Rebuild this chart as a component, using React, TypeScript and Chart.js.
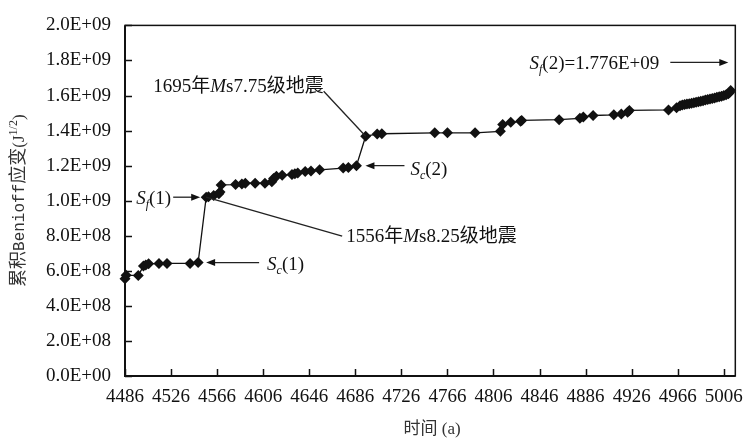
import React, { useEffect, useRef } from "react";
import { Chart, registerables } from "chart.js";

Chart.register(...registerables);

// Years on the time axis (a) and cumulative Benioff strain (J^1/2)
const years: number[] = [
  4486, 4487, 4497.5, 4502, 4504, 4506.5, 4515.5, 4522.5, 4542.5, 4549.5,
  4556.5, 4558.5, 4563, 4567.5, 4568.5, 4569.5, 4582, 4587.5, 4590.5, 4599,
  4607.5, 4613.5, 4615, 4617.5, 4622.5, 4631, 4633.5, 4636, 4642.5, 4647.5,
  4655, 4675.5, 4680, 4687, 4695, 4705, 4709, 4755, 4766, 4790,
  4812, 4814, 4821, 4829.5, 4830.5, 4863, 4881, 4884, 4892.5, 4910.5,
  4917, 4922.5, 4924, 4958, 4965, 4968, 4970, 4972, 4974, 4976,
  4978, 4980, 4982, 4984, 4986, 4988, 4990, 4992, 4994, 4996,
  4998, 5000, 5002, 5004, 5006, 5008, 5010, 5011, 5012,
];

const strain: number[] = [
  5.55e8, 5.75e8, 5.73e8, 6.27e8, 6.33e8, 6.4e8, 6.42e8, 6.42e8, 6.42e8, 6.47e8,
  1.02e9, 1.022e9, 1.03e9, 1.04e9, 1.05e9, 1.09e9, 1.092e9, 1.095e9, 1.1e9, 1.1e9,
  1.1e9, 1.108e9, 1.126e9, 1.14e9, 1.145e9, 1.15e9, 1.154e9, 1.158e9, 1.167e9, 1.17e9,
  1.176e9, 1.186e9, 1.19e9, 1.2e9, 1.368e9, 1.38e9, 1.382e9, 1.387e9, 1.387e9, 1.387e9,
  1.396e9, 1.434e9, 1.447e9, 1.453e9, 1.458e9, 1.462e9, 1.47e9, 1.478e9, 1.486e9, 1.49e9,
  1.494e9, 1.505e9, 1.515e9, 1.518e9, 1.53e9, 1.542e9, 1.546e9, 1.549e9, 1.551e9, 1.553e9,
  1.556e9, 1.559e9, 1.562e9, 1.565e9, 1.567e9, 1.57e9, 1.574e9, 1.577e9, 1.58e9, 1.583e9,
  1.586e9, 1.59e9, 1.593e9, 1.596e9, 1.6e9, 1.605e9, 1.61e9, 1.617e9, 1.628e9,
];

const xTickValues: number[] = [
  4486, 4526, 4566, 4606, 4646, 4686, 4726, 4766, 4806, 4846, 4886, 4926, 4966, 5006,
];

// Marked events: start/end of strain accumulation and the two earthquakes
const sf1 = { year: 4556.5, value: 1.02e9 };
const sc1 = { year: 4549.5, value: 6.47e8 };
const sc2 = { year: 4687, value: 1.2e9 };
const quake1695 = { year: 4695, value: 1.368e9 };
const sf2Text = "1.776E+09";

const SERIF = "'Liberation Serif', 'Times New Roman', 'Noto Sans CJK SC', serif";
const CJK = "'Noto Sans CJK SC', sans-serif";
const MONO = "'Liberation Mono', 'Noto Sans CJK SC', monospace";
const INK = "#111";

function sci(v: number): string {
  if (v === 0) return "0.0E+00";
  const exp = Math.floor(Math.log10(v) + 1e-9);
  const mant = v / Math.pow(10, exp);
  return mant.toFixed(1) + "E+" + String(exp).padStart(2, "0");
}

type Seg = { t: string; font: string; dy?: number };

function richWidth(ctx: CanvasRenderingContext2D, segs: Seg[]): number {
  let w = 0;
  for (const s of segs) {
    ctx.font = s.font;
    w += ctx.measureText(s.t).width;
  }
  return w;
}

function drawRich(
  ctx: CanvasRenderingContext2D,
  segs: Seg[],
  x: number,
  y: number,
  align: "left" | "right" | "center"
) {
  const w = richWidth(ctx, segs);
  let cx = align === "left" ? x : align === "right" ? x - w : x - w / 2;
  ctx.textAlign = "left";
  ctx.textBaseline = "alphabetic";
  for (const s of segs) {
    ctx.font = s.font;
    ctx.fillText(s.t, cx, y + (s.dy || 0));
    cx += ctx.measureText(s.t).width;
  }
}

function arrow(ctx: CanvasRenderingContext2D, x1: number, y1: number, x2: number, y2: number) {
  // line from (x1,y1) with an arrowhead at (x2,y2)
  const ang = Math.atan2(y2 - y1, x2 - x1);
  const len = 9;
  const hw = 3.5;
  ctx.beginPath();
  ctx.moveTo(x1, y1);
  ctx.lineTo(x2 - Math.cos(ang) * len * 0.8, y2 - Math.sin(ang) * len * 0.8);
  ctx.stroke();
  ctx.beginPath();
  ctx.moveTo(x2, y2);
  ctx.lineTo(
    x2 - Math.cos(ang) * len - Math.sin(ang) * hw,
    y2 - Math.sin(ang) * len + Math.cos(ang) * hw
  );
  ctx.lineTo(
    x2 - Math.cos(ang) * len + Math.sin(ang) * hw,
    y2 - Math.sin(ang) * len - Math.cos(ang) * hw
  );
  ctx.closePath();
  ctx.fill();
}

function sLabel(sub: string, num: string): Seg[] {
  return [
    { t: "S", font: `italic 19px ${SERIF}` },
    { t: sub, font: `italic 12px ${SERIF}`, dy: 4 },
    { t: `(${num})`, font: `19px ${SERIF}` },
  ];
}

const framePlugin = {
  id: "frameAndNotes",
  afterDraw(chart: any) {
    const { ctx, chartArea } = chart;
    const xs = chart.scales.x;
    const ys = chart.scales.y;
    const { left, right, top, bottom } = chartArea;
    ctx.save();

    // plot frame
    ctx.strokeStyle = INK;
    ctx.lineWidth = 1.5;
    ctx.strokeRect(left, top, right - left, bottom - top);
    ctx.lineWidth = 2;
    ctx.beginPath();
    ctx.moveTo(left, top);
    ctx.lineTo(left, bottom);
    ctx.lineTo(right, bottom);
    ctx.stroke();

    // inward tick marks
    ctx.lineWidth = 1.5;
    ctx.beginPath();
    for (const t of ys.ticks) {
      const y = Math.round(ys.getPixelForValue(t.value)) + 0.5;
      ctx.moveTo(left, y);
      ctx.lineTo(left + 7, y);
    }
    for (const v of xTickValues) {
      const x = Math.round(xs.getPixelForValue(v)) + 0.5;
      ctx.moveTo(x, bottom);
      ctx.lineTo(x, bottom - 7);
    }
    ctx.stroke();

    // annotations
    ctx.fillStyle = INK;
    ctx.strokeStyle = "#222";
    ctx.lineWidth = 1.3;

    const p = (o: { year: number; value: number }) => ({
      x: xs.getPixelForValue(o.year),
      y: ys.getPixelForValue(o.value),
    });

    const a = p(sf1);
    arrow(ctx, a.x - 33, a.y, a.x - 6, a.y);
    drawRich(ctx, sLabel("f", "1"), a.x - 35, a.y + 7, "right");

    const b = p(sc1);
    arrow(ctx, b.x + 61, b.y, b.x + 8, b.y);
    drawRich(ctx, sLabel("c", "1"), b.x + 69, b.y + 7, "left");

    const c = p(sc2);
    arrow(ctx, c.x + 48, c.y, c.x + 9, c.y);
    drawRich(ctx, sLabel("c", "2"), c.x + 54, c.y + 9, "left");

    // 1556 earthquake leader
    ctx.beginPath();
    ctx.moveTo(a.x, a.y);
    ctx.lineTo(a.x + 136, a.y + 39);
    ctx.stroke();
    drawRich(
      ctx,
      [
        { t: "1556年", font: `19px ${SERIF}` },
        { t: "M", font: `italic 19px ${SERIF}` },
        { t: "s8.25级地震", font: `19px ${SERIF}` },
      ],
      a.x + 140,
      a.y + 45,
      "left"
    );

    // 1695 earthquake leader
    const q = p(quake1695);
    ctx.beginPath();
    ctx.moveTo(q.x, q.y);
    ctx.lineTo(q.x - 42, q.y - 45);
    ctx.stroke();
    drawRich(
      ctx,
      [
        { t: "1695年", font: `19px ${SERIF}` },
        { t: "M", font: `italic 19px ${SERIF}` },
        { t: "s7.75级地震", font: `19px ${SERIF}` },
      ],
      q.x - 42,
      q.y - 44,
      "right"
    );

    // final strain level
    const yf = top + 37;
    arrow(ctx, right - 65, yf, right - 7, yf);
    drawRich(
      ctx,
      [...sLabel("f", "2"), { t: "=" + sf2Text, font: `19px ${SERIF}` }],
      right - 76,
      yf + 7,
      "right"
    );

    // y-axis title with superscript
    ctx.fillStyle = "#333";
    const title: Seg[] = [
      { t: "累积", font: `18px ${CJK}` },
      { t: "Benioff", font: `16px ${MONO}` },
      { t: "应变", font: `18px ${CJK}` },
      { t: "(J", font: `17px ${SERIF}` },
      { t: "1/2", font: `12px ${SERIF}`, dy: -7 },
      { t: ")", font: `17px ${SERIF}` },
    ];
    ctx.translate(24, (top + bottom) / 2);
    ctx.rotate(-Math.PI / 2);
    drawRich(ctx, title, 0, 0, "center");
    ctx.setTransform(1, 0, 0, 1, 0, 0);

    // x-axis title
    drawRich(
      ctx,
      [
        { t: "时间", font: `17px ${CJK}` },
        { t: " (a)", font: `17px ${SERIF}` },
      ],
      (left + right) / 2 + 2,
      434,
      "center"
    );

    ctx.restore();
  },
};

export default function App() {
  const ref = useRef<HTMLCanvasElement | null>(null);

  useEffect(() => {
    if (!ref.current) return;
    const chart = new Chart(ref.current, {
      type: "line",
      data: {
        datasets: [
          {
            data: years.map((x, i) => ({ x, y: strain[i] })),
            borderColor: INK,
            borderWidth: 1.3,
            backgroundColor: INK,
            pointStyle: "rectRot",
            pointRadius: 5.5,
            pointBorderWidth: 0,
            pointBackgroundColor: INK,
            tension: 0,
            clip: false,
          },
        ],
      },
      options: {
        animation: false,
        responsive: false,
        layout: { padding: { top: 19, right: 11, left: 0, bottom: 0 } },
        plugins: { legend: { display: false }, tooltip: { enabled: false } },
        scales: {
          x: {
            type: "linear",
            min: 4486,
            max: 5016,
            afterBuildTicks: (scale: any) => {
              scale.ticks = xTickValues.map((v) => ({ value: v }));
            },
            afterFit: (scale: any) => {
              scale.height = 63;
            },
            grid: { display: false, drawTicks: false },
            border: { display: false },
            ticks: {
              autoSkip: false,
              maxRotation: 0,
              padding: 10,
              color: INK,
              font: { family: SERIF, size: 19 },
              callback: (v: any) => String(v),
            },
          },
          y: {
            type: "linear",
            min: 0,
            max: 2e9,
            afterFit: (scale: any) => {
              scale.width = 125;
            },
            grid: { display: false, drawTicks: false },
            border: { display: false },
            ticks: {
              stepSize: 2e8,
              padding: 14,
              color: INK,
              font: { family: SERIF, size: 19 },
              callback: (v: any) => sci(Number(v)),
            },
          },
        },
      },
      plugins: [framePlugin],
    });
    return () => chart.destroy();
  }, []);

  return (
    <div style={{ position: "fixed", left: 0, top: 0, width: 753, height: 439, background: "#fff" }}>
      <canvas ref={ref} width={753} height={439} />
    </div>
  );
}
